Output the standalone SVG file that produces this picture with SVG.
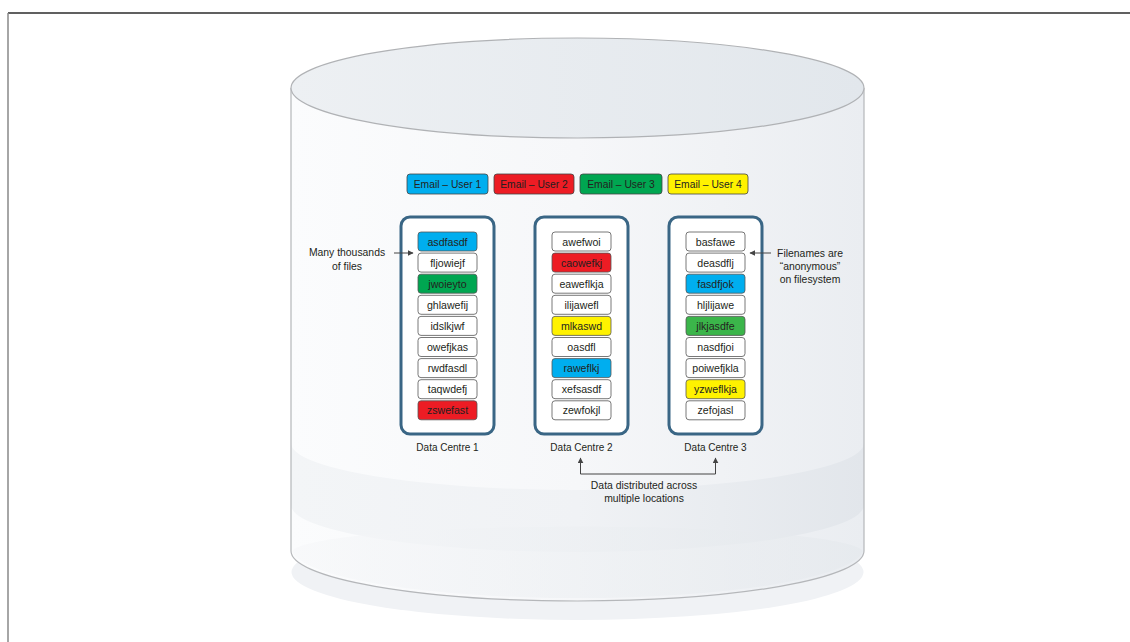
<svg xmlns="http://www.w3.org/2000/svg" width="1130" height="642" viewBox="0 0 1130 642">
<defs>
<linearGradient id="body" x1="0" x2="1" y1="0" y2="0">
<stop offset="0" stop-color="#fbfcfd"/><stop offset="0.5" stop-color="#f6f7f9"/><stop offset="1" stop-color="#eaedf1"/>
</linearGradient>
<linearGradient id="top" x1="0" x2="1" y1="0" y2="0">
<stop offset="0" stop-color="#edf0f3"/><stop offset="1" stop-color="#e2e7ec"/>
</linearGradient>
<linearGradient id="band" x1="0" x2="1" y1="0" y2="0">
<stop offset="0" stop-color="#f3f5f7"/><stop offset="0.5" stop-color="#f0f2f5"/><stop offset="1" stop-color="#e2e6eb"/>
</linearGradient>
<linearGradient id="inner" x1="0" x2="1" y1="0" y2="0">
<stop offset="0" stop-color="#f6f7f9"/><stop offset="0.5" stop-color="#eceff2"/><stop offset="1" stop-color="#e4e8ec"/>
</linearGradient>
<marker id="ah" viewBox="0 0 10 10" refX="9" refY="5" markerWidth="6" markerHeight="6" orient="auto" markerUnits="userSpaceOnUse">
<path d="M0,0 L10,5 L0,10 z" fill="#444"/>
</marker>
</defs>
<style>
text{font-family:"Liberation Sans",Arial,sans-serif;fill:#231f20;}
.f{font-size:10.6px;text-anchor:middle;}
.lg{font-size:10.3px;text-anchor:middle;}
.lbl{font-size:10px;text-anchor:middle;}
.ann{font-size:10.4px;text-anchor:middle;}
.file{stroke:#555;stroke-width:0.8;}
.w{fill:#fff;}
.b{fill:#00aeef;}
.r{fill:#ed1c24;}
.g{fill:#00a651;}
.g2{fill:#3bb54a;}
.y{fill:#fff200;}
.dc{fill:#fff;stroke:#3a6685;stroke-width:3;}
.leg{stroke:#444;stroke-width:0.8;}
.conn{fill:none;stroke:#444;stroke-width:1;}
</style>
<rect width="1130" height="642" fill="#fff"/>
<line x1="8" y1="13" x2="1130" y2="13" stroke="#2b2b2b" stroke-width="1.5"/>
<line x1="8" y1="13" x2="8" y2="642" stroke="#888" stroke-width="1.5"/>

<g id="cylinder">
<ellipse cx="577.5" cy="572" rx="286" ry="48" fill="#f0f2f5"/>
<path d="M291,88 L291,551 A286.5,50 0 0 0 864,551 L864,88 Z" fill="url(#body)"/>
<path d="M291,443 A286.5,47 0 0 0 864,443 L864,505 A286.5,47 0 0 1 291,505 Z" fill="url(#band)"/>
<path d="M292,551 A286,26 0 0 1 863,551 A286,50 0 0 1 292,551 Z" fill="url(#inner)" opacity="0.6"/>
<path d="M291,88 L291,551 A286.5,50 0 0 0 864,551 L864,88" fill="none" stroke="#b5b7ba" stroke-width="1.2"/>
<ellipse cx="577.5" cy="88" rx="286.5" ry="50" fill="url(#top)" stroke="#b0b2b5" stroke-width="1.2"/>
</g>

<g id="legend">
<rect class="leg b" x="407" y="174" width="81" height="20" rx="3"/>
<text class="lg" x="447.5" y="188">Email – User 1</text>
<rect class="leg r" x="494" y="174" width="80" height="20" rx="3"/>
<text class="lg" x="534" y="188">Email – User 2</text>
<rect class="leg g" x="580" y="174" width="82" height="20" rx="3"/>
<text class="lg" x="621" y="188">Email – User 3</text>
<rect class="leg y" x="668" y="174" width="80" height="20" rx="3"/>
<text class="lg" x="708" y="188">Email – User 4</text>
</g>

<g id="dc1">
<rect class="dc" x="401" y="217" width="93" height="217" rx="9"/>
<rect class="file b" x="418" y="232" width="59" height="19" rx="3"/><text class="f" x="447.5" y="245.5">asdfasdf</text>
<rect class="file w" x="418" y="253.1" width="59" height="19" rx="3"/><text class="f" x="447.5" y="266.6">fljowiejf</text>
<rect class="file g" x="418" y="274.2" width="59" height="19" rx="3"/><text class="f" x="447.5" y="287.7">jwoieyto</text>
<rect class="file w" x="418" y="295.3" width="59" height="19" rx="3"/><text class="f" x="447.5" y="308.8">ghlawefij</text>
<rect class="file w" x="418" y="316.4" width="59" height="19" rx="3"/><text class="f" x="447.5" y="329.9">idslkjwf</text>
<rect class="file w" x="418" y="337.5" width="59" height="19" rx="3"/><text class="f" x="447.5" y="351">owefjkas</text>
<rect class="file w" x="418" y="358.6" width="59" height="19" rx="3"/><text class="f" x="447.5" y="372.1">rwdfasdl</text>
<rect class="file w" x="418" y="379.7" width="59" height="19" rx="3"/><text class="f" x="447.5" y="393.2">taqwdefj</text>
<rect class="file r" x="418" y="400.8" width="59" height="19" rx="3"/><text class="f" x="447.5" y="414.3">zswefast</text>
<text class="lbl" x="447.5" y="451">Data Centre 1</text>
</g>

<g id="dc2">
<rect class="dc" x="535" y="217" width="93" height="217" rx="9"/>
<rect class="file w" x="552" y="232" width="59" height="19" rx="3"/><text class="f" x="581.5" y="245.5">awefwoi</text>
<rect class="file r" x="552" y="253.1" width="59" height="19" rx="3"/><text class="f" x="581.5" y="266.6">caowefkj</text>
<rect class="file w" x="552" y="274.2" width="59" height="19" rx="3"/><text class="f" x="581.5" y="287.7">eaweflkja</text>
<rect class="file w" x="552" y="295.3" width="59" height="19" rx="3"/><text class="f" x="581.5" y="308.8">ilijawefl</text>
<rect class="file y" x="552" y="316.4" width="59" height="19" rx="3"/><text class="f" x="581.5" y="329.9">mlkaswd</text>
<rect class="file w" x="552" y="337.5" width="59" height="19" rx="3"/><text class="f" x="581.5" y="351">oasdfl</text>
<rect class="file b" x="552" y="358.6" width="59" height="19" rx="3"/><text class="f" x="581.5" y="372.1">raweflkj</text>
<rect class="file w" x="552" y="379.7" width="59" height="19" rx="3"/><text class="f" x="581.5" y="393.2">xefsasdf</text>
<rect class="file w" x="552" y="400.8" width="59" height="19" rx="3"/><text class="f" x="581.5" y="414.3">zewfokjl</text>
<text class="lbl" x="581.5" y="451">Data Centre 2</text>
</g>

<g id="dc3">
<rect class="dc" x="669" y="217" width="93" height="217" rx="9"/>
<rect class="file w" x="686" y="232" width="59" height="19" rx="3"/><text class="f" x="715.5" y="245.5">basfawe</text>
<rect class="file w" x="686" y="253.1" width="59" height="19" rx="3"/><text class="f" x="715.5" y="266.6">deasdflj</text>
<rect class="file b" x="686" y="274.2" width="59" height="19" rx="3"/><text class="f" x="715.5" y="287.7">fasdfjok</text>
<rect class="file w" x="686" y="295.3" width="59" height="19" rx="3"/><text class="f" x="715.5" y="308.8">hljlijawe</text>
<rect class="file g2" x="686" y="316.4" width="59" height="19" rx="3"/><text class="f" x="715.5" y="329.9">jlkjasdfe</text>
<rect class="file w" x="686" y="337.5" width="59" height="19" rx="3"/><text class="f" x="715.5" y="351">nasdfjoi</text>
<rect class="file w" x="686" y="358.6" width="59" height="19" rx="3"/><text class="f" x="715.5" y="372.1">poiwefjkla</text>
<rect class="file y" x="686" y="379.7" width="59" height="19" rx="3"/><text class="f" x="715.5" y="393.2">yzweflkja</text>
<rect class="file w" x="686" y="400.8" width="59" height="19" rx="3"/><text class="f" x="715.5" y="414.3">zefojasl</text>
<text class="lbl" x="715.5" y="451">Data Centre 3</text>
</g>

<g id="annotations">
<text class="ann" x="347" y="256">Many thousands</text>
<text class="ann" x="347" y="270">of files</text>
<text class="ann" x="810" y="257">Filenames are</text>
<text class="ann" x="810" y="270">“anonymous”</text>
<text class="ann" x="810" y="283">on filesystem</text>
<text class="ann" x="644" y="489">Data distributed across</text>
<text class="ann" x="644" y="502">multiple locations</text>
</g>

<g id="connectors">
<line class="conn" x1="394" y1="253" x2="413" y2="253" marker-end="url(#ah)"/>
<line class="conn" x1="771" y1="253" x2="750" y2="253" marker-end="url(#ah)"/>
<path class="conn" d="M580.5,474 L580.5,458" marker-end="url(#ah)"/>
<path class="conn" d="M715.5,474 L715.5,458" marker-end="url(#ah)"/>
<line class="conn" x1="580.5" y1="474" x2="715.5" y2="474"/>
</g>
</svg>
